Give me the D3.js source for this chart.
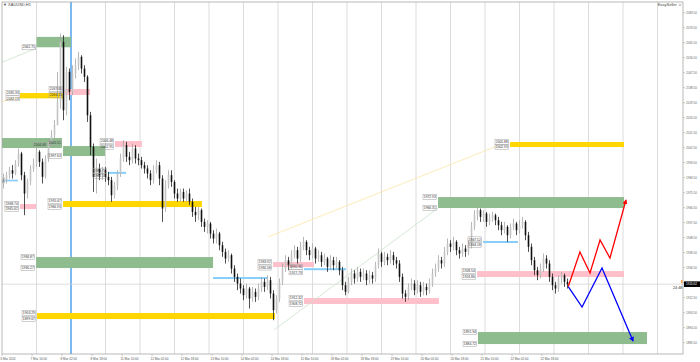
<!DOCTYPE html>
<html>
<head>
<meta charset="utf-8">
<script src="https://cdn.jsdelivr.net/npm/d3@7"></script>
<style>
  body { margin: 0; background: #fff; }
  svg { display: block; font-family: "Liberation Sans", Arial, sans-serif; }
</style>
</head>
<body>
<svg id="chart"></svg>
<script>
// ---- data ----
const symbolTitle = "\u25BC XAUUSD,H1";
const expertName = "EasySeller \u263A";

// H1 bars, drawn two hours per candle; open of each candle = previous close
const firstOpen = 1981;
const closes = [
  1983,1986,1989,1987,1993,1999,1986,1975,1982,1990,
  1993,2000,1994,1985,1996,2006,2010,2016,2030,2066,
  2025,2048,2036,2047,2052,2057,2050,2045,2022,2003,
  1985,1990,1986,1989,1985,1983,1974,1980,1987,1996,
  2004,1997,1995,2002,1996,1995,1992,1990,1987,1983,
  1989,1992,1984,1966,1980,1986,1982,1975,1972,1976,
  1972,1975,1970,1964,1962,1965,1958,1955,1957,1951,
  1948,1951,1944,1940,1936,1938,1930,1925,1921,1918,
  1914,1918,1912,1916,1913,1918,1922,1919,1923,1915,
  1905,1912,1922,1930,1935,1932,1938,1941,1936,1943,
  1946,1941,1938,1942,1936,1938,1934,1936,1931,1935,
  1932,1934,1929,1920,1916,1922,1927,1924,1928,1925,
  1927,1923,1926,1924,1932,1939,1934,1937,1935,1938,
  1935,1933,1925,1915,1913,1919,1921,1917,1920,1916,
  1919,1917,1921,1927,1930,1935,1933,1940,1945,1943,
  1946,1941,1939,1942,1940,1944,1955,1962,1965,1961,
  1963,1958,1960,1962,1959,1956,1953,1955,1950,1955,
  1957,1953,1956,1958,1950,1943,1935,1929,1926,1930,
  1936,1933,1925,1920,1918,1924,1926,1922,1920.62
];
const highs = [
  1987,1988,1991,1992,1995,2002,2000,1988,1984,1992,
  1996,2003,2001,1996,1998,2008,2013,2019,2048,2071,
  2070,2051,2050,2052,2056,2060,2058,2052,2046,2024,
  2005,1996,1993,1991,1991,1988,1985,1982,1989,1999,
  2007,2006,2000,2005,2004,1999,1997,1994,1992,1989,
  1992,1995,1994,1986,1983,1989,1989,1983,1978,1978,
  1978,1977,1978,1972,1967,1967,1966,1960,1959,1958,
  1953,1954,1952,1946,1942,1941,1939,1932,1927,1924,
  1920,1921,1919,1919,1918,1921,1925,1924,1926,1925,
  1917,1914,1924,1933,1938,1937,1941,1944,1943,1946,
  1949,1947,1943,1945,1943,1941,1940,1939,1937,1938,
  1937,1937,1935,1931,1922,1925,1930,1929,1931,1930,
  1930,1929,1929,1928,1934,1942,1940,1940,1939,1941,
  1940,1937,1935,1927,1917,1921,1924,1923,1923,1922,
  1922,1921,1924,1930,1933,1938,1937,1943,1948,1947,
  1949,1947,1943,1945,1944,1947,1958,1965,1967,1966,
  1965,1964,1963,1964,1963,1961,1958,1958,1956,1957,
  1960,1958,1959,1961,1959,1952,1945,1937,1931,1933,
  1939,1938,1935,1927,1922,1926,1928,1927,1924
];
const lows = [
  1978,1981,1984,1984,1986,1991,1983,1962,1972,1980,
  1988,1991,1991,1981,1984,1994,2003,2008,2016,2026,
  2019,2022,2031,2034,2044,2049,2047,2042,2018,1998,
  1976,1975,1983,1983,1982,1980,1970,1972,1977,1985,
  1994,1994,1992,1993,1993,1992,1990,1987,1984,1980,
  1981,1987,1980,1958,1964,1978,1979,1972,1970,1970,
  1970,1970,1968,1961,1958,1959,1955,1952,1951,1948,
  1945,1945,1941,1937,1933,1934,1927,1922,1917,1915,
  1911,1912,1906,1910,1910,1911,1916,1916,1917,1912,
  1899,1903,1910,1920,1928,1929,1930,1936,1933,1934,
  1941,1938,1935,1936,1933,1934,1931,1932,1928,1929,
  1929,1930,1926,1917,1914,1915,1920,1921,1922,1922,
  1923,1920,1921,1921,1922,1930,1931,1932,1932,1933,
  1932,1930,1922,1912,1910,1911,1917,1914,1915,1913,
  1914,1914,1915,1919,1925,1928,1930,1931,1938,1940,
  1941,1938,1936,1937,1937,1938,1942,1953,1959,1958,
  1958,1955,1956,1958,1956,1953,1950,1951,1946,1948,
  1953,1950,1951,1954,1947,1940,1932,1926,1923,1924,
  1928,1930,1922,1917,1915,1916,1921,1919,1918
];

// right price scale
const priceTicks = [
  2083.5, 2074.5, 2065.5, 2056.5, 2047.5, 2038.5, 2029.5, 2020.5, 2011.5, 2002.5,
  1993.5, 1984.5, 1975.5, 1966.5, 1957.5, 1948.5, 1939.5, 1930.5, 1921.5, 1912.5,
  1903.5, 1894.5, 1885.5
];
// time scale, in hours (bars) from the first bar
const timeTicks = [0, 20, 40, 60, 80, 100, 120, 140, 160, 180, 200, 220, 240, 260, 280, 300, 320, 340, 360];
const timeTickLabels = [
  "6 Mar 2024", "7 Mar 10:00", "8 Mar 02:00", "8 Mar 18:00", "11 Mar 10:00",
  "12 Mar 02:00", "12 Mar 18:00", "13 Mar 10:00", "14 Mar 02:00", "14 Mar 18:00",
  "15 Mar 10:00", "18 Mar 02:00", "18 Mar 18:00", "19 Mar 10:00", "20 Mar 02:00",
  "20 Mar 18:00", "21 Mar 10:00", "22 Mar 02:00", "22 Mar 18:00"
];
const daySeparators = [23, 46, 69, 92, 115, 138, 161, 184, 207, 230, 253, 276, 299, 322, 345, 368, 391, 414, 437];
const markerHour = 46;
const bidPrice = 1920.62;
const barTimer = "24:48";

// price zones: kind, from hour, to hour, top price, bottom price
const zones = [
  { kind: "demand", from: -10, to: 40, hi: 2008.3, lo: 2002.3 },
  { kind: "demand", from: 23, to: 46, hi: 2069.0, lo: 2062.75 },
  { kind: "target", from: 12, to: 40.7, hi: 2035.3, lo: 2032.1 },
  { kind: "supply", from: 42, to: 58.7, hi: 2037.7, lo: 2034.1 },
  { kind: "demand", from: 40.7, to: 68.7, hi: 2003.5, lo: 1997.5 },
  { kind: "supply", from: 75.3, to: 93.3, hi: 2006.5, lo: 2002.9 },
  { kind: "pivot", from: 70.7, to: 82.7, hi: 1988.0, lo: 1986.8 },
  { kind: "pivot", from: 2, to: 10.7, hi: 1983.3, lo: 1982.3 },
  { kind: "supply", from: 12, to: 22.7, hi: 1968.7, lo: 1965.7 },
  { kind: "target", from: 40.7, to: 133.3, hi: 1970.5, lo: 1966.9 },
  { kind: "target", from: -10, to: 0, hi: 1974.0, lo: 1972.3 },
  { kind: "demand", from: -10, to: 0, hi: 1947.0, lo: 1941.1 },
  { kind: "demand", from: 22.7, to: 140.7, hi: 1936.9, lo: 1930.3 },
  { kind: "pivot", from: 140.7, to: 176.7, hi: 1924.9, lo: 1923.7 },
  { kind: "supply", from: 180.7, to: 208, hi: 1933.9, lo: 1930.9 },
  { kind: "pivot", from: 201.3, to: 229.3, hi: 1930.2, lo: 1929.0 },
  { kind: "supply", from: 201.3, to: 291.3, hi: 1912.3, lo: 1908.7 },
  { kind: "target", from: 23.3, to: 182, hi: 1903.3, lo: 1899.7 },
  { kind: "supply", from: 316.7, to: 414.7, hi: 1928.5, lo: 1924.9 },
  { kind: "pivot", from: 320.7, to: 344, hi: 1946.5, lo: 1945.3 },
  { kind: "demand", from: 290.7, to: 414.7, hi: 1972.9, lo: 1966.3 },
  { kind: "target", from: 338.7, to: 414.7, hi: 2005.9, lo: 2002.9 },
  { kind: "demand", from: 317.3, to: 430, hi: 1891.9, lo: 1884.7 }
];

// price tags printed at the left end of the zones: hour of the tag's right edge, price
const priceTags = [
  { at: 22.7, p: 2062.75 },
  { at: 12, p: 2035.33 }, { at: 12, p: 2032.13 },
  { at: 40.7, p: 2037.65 }, { at: 40.7, p: 2034.15 },
  { at: 30, p: 2004.08 },
  { at: 40, p: 2005.51 }, { at: 40, p: 1997.63 },
  { at: 74.7, p: 2006.48 }, { at: 74.7, p: 2002.95 },
  { at: 70, p: 1988.75 }, { at: 70, p: 1985.55 },
  { at: 2, p: 1982.84 },
  { at: 11.3, p: 1968.74 }, { at: 11.3, p: 1965.62 },
  { at: 40, p: 1970.47 }, { at: 40, p: 1966.93 },
  { at: 22, p: 1936.87 }, { at: 22, p: 1930.27 },
  { at: 180, p: 1933.92 }, { at: 180, p: 1930.58 },
  { at: 200.7, p: 1930.96 }, { at: 200.7, p: 1927.73 },
  { at: 200.7, p: 1912.32 }, { at: 200.7, p: 1908.72 },
  { at: 22.7, p: 1903.29 }, { at: 22.7, p: 1899.67 },
  { at: 316, p: 1928.54 }, { at: 316, p: 1924.86 },
  { at: 320, p: 1947.52 }, { at: 320, p: 1944.18 },
  { at: 290, p: 1972.93 }, { at: 290, p: 1966.31 },
  { at: 338, p: 2005.88 }, { at: 338, p: 2002.93 },
  { at: 316.7, p: 1891.94 }, { at: 316.7, p: 1884.72 }
];

// faint connector lines
const guideLines = [
  { kind: "target", t0: 177.3, p0: 1948.9, t1: 330, p1: 2003.5 },
  { kind: "demand", t0: 181.3, p0: 1893.1, t1: 290.7, p1: 1966.3 },
  { kind: "demand", t0: -1.3, p0: 2053.3, t1: 23.3, p1: 2062.3 },
  { kind: "target", t0: -1.3, p0: 2029.9, t1: 12, p1: 2032.9 }
];

// projected scenarios [hour, price]
const bullPath = [[377.5, 1919.2], [385.3, 1939.9], [392, 1927.3], [398.7, 1947.1], [405.3, 1936.3], [416, 1971.1]];
const bearPath = [[377.5, 1919.2], [386.7, 1906.9], [400, 1930.3], [420.7, 1886.5]];

const zoneColor = { demand: "#8fbc8f", target: "#ffd700", supply: "#ffc0cb", pivot: "#87cefa" };
const guideColor = { demand: "#c9e2c9", target: "#fbe7a6" };

class TradeChart {
  constructor(_config) {
    this.parentElement = _config.parentElement;
    this.width = 700;
    this.height = 362;
    this.left = 2;
    this.right = 683;
    this.top = 2;
    this.bottom = 354;
    this.initSvg();
  }

  initSvg() {
    this.svg = d3
      .select(this.parentElement)
      .attr("width", this.width)
      .attr("height", this.height);

    this.x = d3.scaleLinear().domain([0, 454]).range([this.left, this.right]);
    this.y = d3.scaleLinear().domain([1885.5, 2083.5]).range([342.7, 12.7]);

    const defs = this.svg.append("defs");
    defs
      .append("clipPath")
      .attr("id", "plotClip")
      .append("rect")
      .attr("x", this.left)
      .attr("y", this.top)
      .attr("width", this.right - this.left)
      .attr("height", this.bottom - this.top);
    [["arrowRed", "#ff0000"], ["arrowBlue", "#0000ff"]].forEach(([id, c]) => {
      defs
        .append("marker")
        .attr("id", id)
        .attr("viewBox", "0 0 6 6")
        .attr("refX", 5)
        .attr("refY", 3)
        .attr("markerWidth", 5)
        .attr("markerHeight", 5)
        .attr("markerUnits", "userSpaceOnUse")
        .attr("orient", "auto")
        .append("path")
        .attr("d", "M0,0 L6,3 L0,6 Z")
        .attr("fill", c);
    });

    this.plot = this.svg.append("g").attr("clip-path", "url(#plotClip)");

    this.drawGrid();
    this.drawZones();
    this.drawGuides();
    this.drawCandles();
    this.drawTags();
    this.drawScenarios();
    this.drawAxes();
    this.drawHeader();
  }

  // day separators + marker line + bid line
  drawGrid() {
    this.plot
      .selectAll(".sep")
      .data(daySeparators)
      .join("line")
      .attr("class", "sep")
      .attr("x1", (d) => this.x(d))
      .attr("x2", (d) => this.x(d))
      .attr("y1", this.top)
      .attr("y2", this.bottom)
      .attr("stroke", "#dcdcdc")
      .attr("stroke-width", 1);

    this.plot
      .append("line")
      .attr("x1", this.x(markerHour))
      .attr("x2", this.x(markerHour))
      .attr("y1", this.top)
      .attr("y2", this.bottom)
      .attr("stroke", "#4aa3f0")
      .attr("stroke-width", 1.4);

    this.plot
      .append("line")
      .attr("x1", this.left)
      .attr("x2", this.right)
      .attr("y1", this.y(bidPrice))
      .attr("y2", this.y(bidPrice))
      .attr("stroke", "#d4d4d4")
      .attr("stroke-width", 0.8);
  }

  drawZones() {
    this.plot
      .selectAll(".zone")
      .data(zones)
      .join("rect")
      .attr("class", "zone")
      .attr("x", (d) => this.x(d.from))
      .attr("y", (d) => this.y(d.hi))
      .attr("width", (d) => this.x(d.to) - this.x(d.from))
      .attr("height", (d) => this.y(d.lo) - this.y(d.hi))
      .attr("fill", (d) => zoneColor[d.kind]);
  }

  drawGuides() {
    this.plot
      .selectAll(".guide")
      .data(guideLines)
      .join("line")
      .attr("class", "guide")
      .attr("x1", (d) => this.x(d.t0))
      .attr("y1", (d) => this.y(d.p0))
      .attr("x2", (d) => this.x(d.t1))
      .attr("y2", (d) => this.y(d.p1))
      .attr("stroke", (d) => guideColor[d.kind])
      .attr("stroke-width", 0.8);
  }

  drawCandles() {
    const bars = closes.map((c, i) => ({
      t: i * 2 + 1,
      o: i === 0 ? firstOpen : closes[i - 1],
      h: highs[i],
      l: lows[i],
      c: c,
    }));
    const g = this.plot.append("g");
    g.selectAll(".wick")
      .data(bars)
      .join("line")
      .attr("class", "wick")
      .attr("x1", (d) => this.x(d.t))
      .attr("x2", (d) => this.x(d.t))
      .attr("y1", (d) => this.y(d.h))
      .attr("y2", (d) => this.y(d.l))
      .attr("stroke", (d) => (d.c >= d.o ? "#a6a6a6" : "#222"))
      .attr("stroke-width", 0.8);
    g.selectAll(".body")
      .data(bars)
      .join("rect")
      .attr("class", "body")
      .attr("x", (d) => this.x(d.t) - 0.8)
      .attr("y", (d) => this.y(Math.max(d.o, d.c)))
      .attr("width", 1.6)
      .attr("height", (d) => Math.max(0.7, Math.abs(this.y(d.o) - this.y(d.c))))
      .attr("fill", (d) => (d.c >= d.o ? "#c4c4c4" : "#111"));
  }

  // small price boxes at the start of each zone
  drawTags() {
    const tag = this.plot
      .selectAll(".tag")
      .data(priceTags)
      .join("g")
      .attr("class", "tag")
      .attr("transform", (d) => `translate(${this.x(d.at)},${this.y(d.p)})`);
    tag
      .append("rect")
      .attr("x", -14)
      .attr("y", -2.5)
      .attr("width", 13.5)
      .attr("height", 5)
      .attr("fill", "none")
      .attr("stroke", "#a0a0a0")
      .attr("stroke-width", 0.5);
    tag
      .append("text")
      .attr("x", -13.2)
      .attr("y", 0.2)
      .attr("dominant-baseline", "middle")
      .attr("font-size", 3.8)
      .attr("textLength", 12)
      .attr("lengthAdjust", "spacingAndGlyphs")
      .attr("fill", "#333")
      .text((d) => d.p.toFixed(2));
  }

  drawScenarios() {
    const line = d3
      .line()
      .x((d) => this.x(d[0]))
      .y((d) => this.y(d[1]));
    this.plot
      .append("path")
      .attr("d", line(bullPath))
      .attr("fill", "none")
      .attr("stroke", "#ff0000")
      .attr("stroke-width", 1.3)
      .attr("marker-end", "url(#arrowRed)");
    this.plot
      .append("path")
      .attr("d", line(bearPath))
      .attr("fill", "none")
      .attr("stroke", "#0000ff")
      .attr("stroke-width", 1.3)
      .attr("marker-end", "url(#arrowBlue)");
  }

  drawAxes() {
    // frame
    this.svg
      .append("rect")
      .attr("x", this.left)
      .attr("y", this.top)
      .attr("width", this.right - this.left)
      .attr("height", this.bottom - this.top)
      .attr("fill", "none")
      .attr("stroke", "#a8a8a8")
      .attr("stroke-width", 0.8);

    // price scale; the label under the bid box is hidden, as the terminal does
    const by = this.y(bidPrice);
    const shownTicks = priceTicks.filter((d) => Math.abs(this.y(d) - by) > 4);
    const yAxis = this.svg.append("g");
    yAxis
      .selectAll("line")
      .data(priceTicks)
      .join("line")
      .attr("x1", this.right)
      .attr("x2", this.right + 2)
      .attr("y1", (d) => this.y(d))
      .attr("y2", (d) => this.y(d))
      .attr("stroke", "#a8a8a8")
      .attr("stroke-width", 0.6);
    yAxis
      .selectAll("text")
      .data(shownTicks)
      .join("text")
      .attr("x", this.right + 3)
      .attr("y", (d) => this.y(d))
      .attr("dominant-baseline", "middle")
      .attr("font-size", 4)
      .attr("textLength", 11)
      .attr("lengthAdjust", "spacingAndGlyphs")
      .attr("fill", "#666")
      .text((d) => d.toFixed(2));

    // bid box and bar timer
    this.svg
      .append("rect")
      .attr("x", this.right + 1)
      .attr("y", by - 2.8)
      .attr("width", 16)
      .attr("height", 5.6)
      .attr("fill", "#000");
    this.svg
      .append("text")
      .attr("x", this.right + 3)
      .attr("y", by + 0.2)
      .attr("dominant-baseline", "middle")
      .attr("font-size", 4)
      .attr("textLength", 11)
      .attr("lengthAdjust", "spacingAndGlyphs")
      .attr("fill", "#fff")
      .text(bidPrice.toFixed(2));
    this.svg
      .append("rect")
      .attr("x", this.right - 2)
      .attr("y", by - 4)
      .attr("width", 1.5)
      .attr("height", 3)
      .attr("fill", "#ff9a3c");
    this.svg
      .append("text")
      .attr("x", this.right - 0.5)
      .attr("y", by + 3.8)
      .attr("text-anchor", "end")
      .attr("dominant-baseline", "middle")
      .attr("font-size", 3.8)
      .attr("fill", "#333")
      .text(barTimer);

    // time scale
    const xAxis = this.svg.append("g");
    xAxis
      .selectAll("line")
      .data(timeTicks)
      .join("line")
      .attr("x1", (d) => this.x(d))
      .attr("x2", (d) => this.x(d))
      .attr("y1", this.bottom)
      .attr("y2", this.bottom + 2)
      .attr("stroke", "#a8a8a8")
      .attr("stroke-width", 0.6);
    xAxis
      .selectAll("text")
      .data(timeTicks)
      .join("text")
      .attr("x", (d) => this.x(d) - 1.5)
      .attr("y", this.bottom + 4.5)
      .attr("dominant-baseline", "middle")
      .attr("font-size", 4)
      .attr("textLength", (d, i) => timeTickLabels[i].length * 1.5)
      .attr("lengthAdjust", "spacingAndGlyphs")
      .attr("fill", "#555")
      .text((d, i) => timeTickLabels[i]);
  }

  drawHeader() {
    this.svg
      .append("text")
      .attr("x", 3)
      .attr("y", 5)
      .attr("dominant-baseline", "middle")
      .attr("font-size", 4)
      .attr("fill", "#444")
      .text(symbolTitle);
    this.svg
      .append("text")
      .attr("x", this.right - 1)
      .attr("y", 5)
      .attr("text-anchor", "end")
      .attr("dominant-baseline", "middle")
      .attr("font-size", 4)
      .attr("fill", "#444")
      .text(expertName);
  }
}

new TradeChart({ parentElement: "#chart" });
</script>
</body>
</html>
